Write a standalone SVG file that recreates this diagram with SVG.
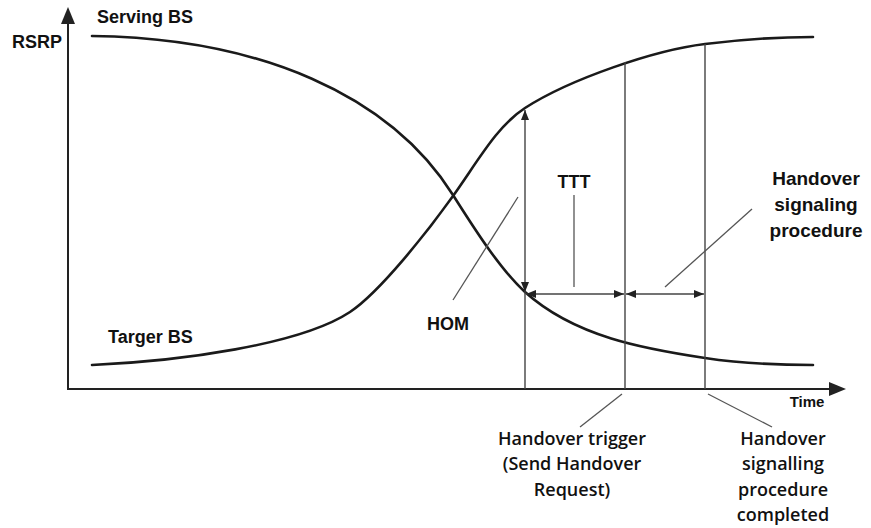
<svg xmlns="http://www.w3.org/2000/svg" width="871" height="528" viewBox="0 0 871 528">
<defs>
<style>
.curve{fill:none;stroke:#1a1a1a;stroke-width:2.6;stroke-linecap:round}
.axis{stroke:#222;stroke-width:2;fill:none}
.thin{stroke:#444;stroke-width:1.4;fill:none}
.ptr{stroke:#555;stroke-width:1.3;fill:none}
.lb{font-family:"Liberation Sans",Arial,sans-serif;font-weight:bold;fill:#111}
.lr{font-family:"Open Sans","Liberation Sans",sans-serif;font-size:18px;font-weight:600;fill:#111}
</style>
<marker id="ah" viewBox="0 0 10 8" refX="10" refY="4" markerWidth="10" markerHeight="8" markerUnits="userSpaceOnUse" orient="auto-start-reverse">
<path d="M0,0 L10,4 L0,8 Z" fill="#222"/>
</marker>
</defs>
<rect width="871" height="528" fill="#fff"/>
<g id="axes">
<line class="axis" x1="68" y1="389" x2="68" y2="20"/>
<path d="M68,7 L75,24 L61,24 Z" fill="#222"/>
<line class="axis" x1="67" y1="389" x2="832" y2="389"/>
<path d="M846,389 L829,382 L829,396 Z" fill="#222"/>
</g>
<g id="serving-curve">
<path class="curve" d="M92,36 C260,38 390,95 453,195 C477,233 501,270 525,292 C575,337 645,349 705,358 C745,364 780,365 813,365"/>
</g>
<g id="target-curve">
<path class="curve" d="M92,365 C180,361 300,345 350,312 C380,292 428,231 453,196 C478,161 497,126 525,108 C570,79 655,50 705,44 C745,39 780,37 813,37"/>
</g>
<g id="connectors">
<line class="thin" x1="525" y1="292" x2="525" y2="389"/>
<line class="thin" x1="625" y1="62" x2="625" y2="389"/>
<line class="thin" x1="705" y1="44" x2="705" y2="389"/>
<line class="thin" x1="525" y1="110" x2="525" y2="292" marker-start="url(#ah)" marker-end="url(#ah)"/>
<line class="thin" x1="526" y1="294" x2="624" y2="294" marker-start="url(#ah)" marker-end="url(#ah)"/>
<line class="thin" x1="626" y1="294" x2="704" y2="294" marker-start="url(#ah)" marker-end="url(#ah)"/>
<line class="ptr" x1="518" y1="197" x2="453" y2="300"/>
<line class="ptr" x1="574" y1="195" x2="574" y2="287"/>
<line class="ptr" x1="665" y1="287" x2="752" y2="209"/>
<line class="ptr" x1="622" y1="394" x2="580" y2="427"/>
<line class="ptr" x1="708" y1="394" x2="772" y2="427"/>
</g>
<g id="label-rsrp"><text class="lb" x="12" y="48" font-size="18">RSRP</text></g>
<g id="label-serving"><text class="lb" x="97" y="23" font-size="18">Serving BS</text></g>
<g id="label-target"><text class="lb" x="108" y="343" font-size="18">Targer BS</text></g>
<g id="label-hom"><text class="lb" x="448" y="330" font-size="18" text-anchor="middle">HOM</text></g>
<g id="label-ttt"><text class="lb" x="574" y="188" font-size="18" text-anchor="middle">TTT</text></g>
<g id="label-time"><text class="lb" x="807" y="407" font-size="15" text-anchor="middle">Time</text></g>
<g id="label-signaling">
<text class="lb" font-size="19" text-anchor="middle"><tspan x="816" y="185">Handover</tspan><tspan x="816" y="211">signaling</tspan><tspan x="816" y="237">procedure</tspan></text>
</g>
<g id="label-trigger">
<text class="lr" text-anchor="middle"><tspan x="572" y="445">Handover trigger</tspan><tspan x="572" y="470">(Send Handover</tspan><tspan x="572" y="496">Request)</tspan></text>
</g>
<g id="label-completed">
<text class="lr" text-anchor="middle"><tspan x="783" y="445">Handover</tspan><tspan x="783" y="470">signalling</tspan><tspan x="783" y="496">procedure</tspan><tspan x="783" y="521">completed</tspan></text>
</g>
</svg>
